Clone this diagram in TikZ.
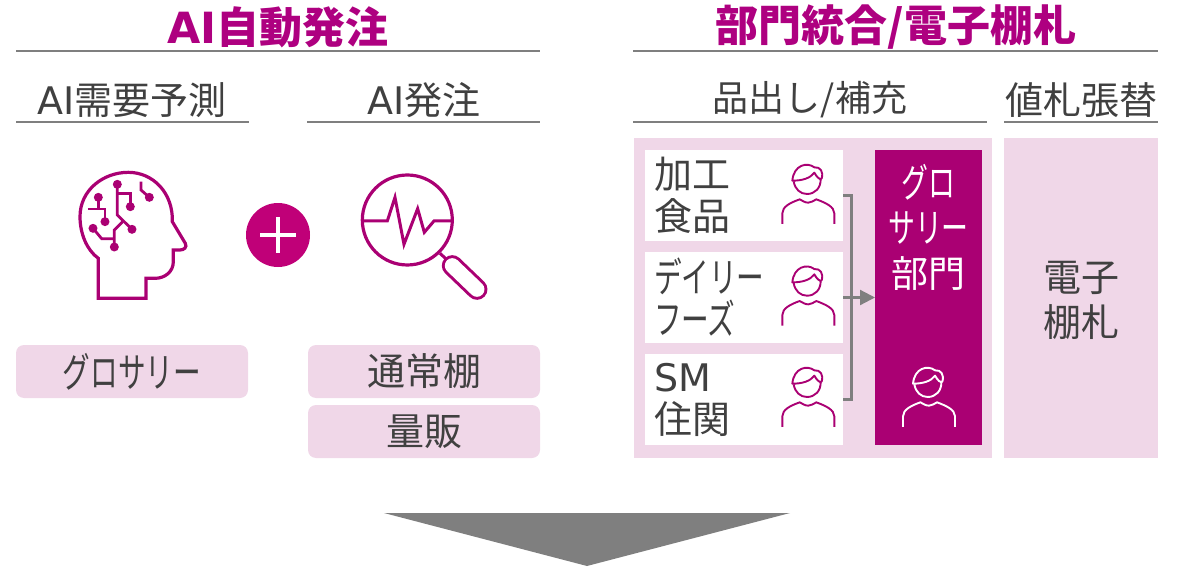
\documentclass[tikz,border=0pt]{standalone}
\usepackage{fontspec}
\setmainfont{Noto Sans CJK JP}
\newfontfamily\latf{DejaVu Sans}
\newfontfamily\kana[FakeStretch=0.68,Scale=1.07]{Noto Sans CJK JP}
\usetikzlibrary{arrows.meta}
\definecolor{mag}{HTML}{AA0073}
\definecolor{titlec}{HTML}{AE0080}
\definecolor{plusc}{HTML}{C00078}
\definecolor{pinkc}{HTML}{F0D7E8}
\definecolor{textc}{HTML}{404040}
\definecolor{grayc}{HTML}{7F7F7F}
\tikzset{
  x=1pt,y=-1pt,
  every node/.style={inner sep=0pt,outer sep=0pt,text=textc},
  titletext/.style={font=\fontsize{43}{50}\selectfont\bfseries,text=titlec},
  subtext/.style={font=\fontsize{38}{44}\selectfont},
  bodytext/.style={font=\fontsize{38}{42}\selectfont},
  rulec/.style={draw=grayc,line width=1.6pt},
  pill/.style={fill=pinkc,rounded corners=8pt,minimum width=232pt,minimum height=53pt,bodytext},
  itembox/.style={fill=white,minimum width=198pt,minimum height=91pt,text width=180pt,align=left,bodytext},
  icon/.style={draw=mag,line width=3.2pt,line join=miter},
  trace/.style={draw=mag,line width=2.8pt,line join=miter},
  dot/.style={fill=mag},
  personline/.style={line width=1.9pt,line join=round},
  link/.style={draw=grayc,line width=2.2pt},
  person/.pic={
    \begin{scope}[x=0.3333pt,y=-0.3333pt,personline]
      \draw (-40,4) .. controls (-36,28) and (-20,42) .. (0,42) .. controls (24,42) and (42,24) .. (41,-4);
      \draw (-44,2) .. controls (-15,2) and (10,-5) .. (22,-22) .. controls (30,-8) and (38,0) .. (44,-4)
            .. controls (50,-25) and (40,-40) .. (22,-38) .. controls (0,-55) and (-40,-45) .. (-44,2) -- cycle;
      \draw (-74,132) -- (-74,100) .. controls (-74,80) and (-50,68) .. (-22,58)
            .. controls (-12,62) and (-8,68) .. (4,68) .. controls (14,68) and (18,62) .. (28,58)
            .. controls (55,68) and (82,80) .. (82,100) -- (82,132);
    \end{scope}
  }
}
\begin{document}
\begin{tikzpicture}
\useasboundingbox (0,0) rectangle (1181,567);
% titles
\node[titletext] (t1) at (278,27) {{\latf AI}自動発注};
\node[titletext] (t2) at (896,27) {部門統合/電子棚札};
\draw[rulec] (16,51) -- (540,51);
\draw[rulec] (633,51) -- (1158,51);
% subtitles
\node[subtext] (s1) at (132,100) {{\latf AI}需要予測};
\node[subtext] (s2) at (424,100) {{\latf AI}発注};
\node[subtext,font=\fontsize{36}{44}\selectfont] (s3) at (810,100) {品出し/補充};
\node[subtext] (s4) at (1081,100) {値札張替};
\draw[rulec] (16,122) -- (249,122);
\draw[rulec] (307,122) -- (540,122);
\draw[rulec] (633,122) -- (987,122);
\draw[rulec] (1004,122) -- (1158,122);
% head icon
\begin{scope}[shift={(60,150)},x=0.3333pt,y=-0.3333pt]
  \draw[icon] (115,445) -- (115,325) .. controls (80,300) and (60,250) .. (60,200)
    .. controls (60,120) and (130,67) .. (205,67) .. controls (280,67) and (340,130) .. (337,215)
    -- (376,280) .. controls (382,292) and (372,300) .. (360,300) -- (340,300) -- (340,335)
    .. controls (340,365) and (315,385) .. (285,385) -- (258,385) -- (258,445) -- cycle;
  \draw[trace] (172,103) -- (172,195) -- (216,238);
  \draw[trace] (172,130) -- (211,130) -- (211,170);
  \draw[trace] (84,177) -- (135,177) -- (135,215);
  \draw[trace] (115,142) -- (115,177);
  \draw[trace] (188,215) -- (163,240) -- (163,291);
  \draw[trace] (99,235) -- (125,266) -- (163,266);
  \draw[trace] (243,95) -- (243,120) -- (268,142);
  \foreach \p/\q in {172/103,115/142,211/170,135/215,216/238,99/235,163/291,268/142}
    \fill[dot] (\p,\q) circle[radius=13.5];
\end{scope}
% plus
\node[fill=plusc,circle,minimum size=64pt] (plus) at (278,235) {};
\draw[white,line width=3.4pt] (260,235) -- (296,235) (278,217) -- (278,253);
% magnifier
\begin{scope}[shift={(240,160)},x=0.3333pt,y=-0.3333pt]
  \draw[icon] (502,180) circle[radius=135];
  \draw[icon,line width=3pt] (367,183) -- (442,183) -- (465,112) -- (492,253) -- (533,146) -- (553,217) -- (582,183) -- (637,183);
  \draw[icon,line width=3pt] (600,280) -- (625,303);
  \draw[line width=21pt,mag,line cap=round] (637,317) -- (711,388);
  \draw[line width=15pt,white,line cap=round] (637,317) -- (711,388);
\end{scope}
% pills
\node[pill] (g) at (132,371.5) {\raisebox{-2pt}{\kana グロサリー}};
\node[pill] (n1) at (424,371.5) {\raisebox{-2pt}{通常棚}};
\node[pill] (n2) at (424,431.5) {\raisebox{-2pt}{量販}};
% panels
\fill[pinkc] (634,138) rectangle (992,458);
\node[fill=pinkc,minimum width=154pt,minimum height=320pt] (tag) at (1081,298) {};
\node[align=center,font=\fontsize{38}{45}\selectfont] (tagt) at (1081,300.5) {電子\\棚札};
% item boxes
\node[itembox] (b1) at (744,195.5) {加工\\食品};
\node[itembox] (b2) at (744,297.5) {{\kana デイリー}\\{\kana フーズ}};
\node[itembox] (b3) at (744,399.5) {{\latf SM}\\住関};
\node[fill=mag,minimum width=107pt,minimum height=295pt] (dept) at (928.5,297.5) {};
\node[text=white,align=center,anchor=north,font=\fontsize{37}{45}\selectfont] (deptt) at (928.5,164) {{\kana グロ}\\{\kana サリー}\\部門};
% connectors
\draw[link] (b1.east) -- ++(8.5,0) |- (b3.east);
\draw[link,-{Triangle[length=15pt,width=15pt]}] (b2.east) -- (dept.west);
% persons
\begin{scope}[draw=mag]
  \pic at (807,180) {person};
  \pic at (807,281.7) {person};
  \pic at (807,383) {person};
\end{scope}
\begin{scope}[draw=white]
  \pic at (927.7,383) {person};
\end{scope}
% big arrow
\fill[grayc] (384,513) -- (790,513) -- (587,566) -- cycle;
\end{tikzpicture}
\end{document}
